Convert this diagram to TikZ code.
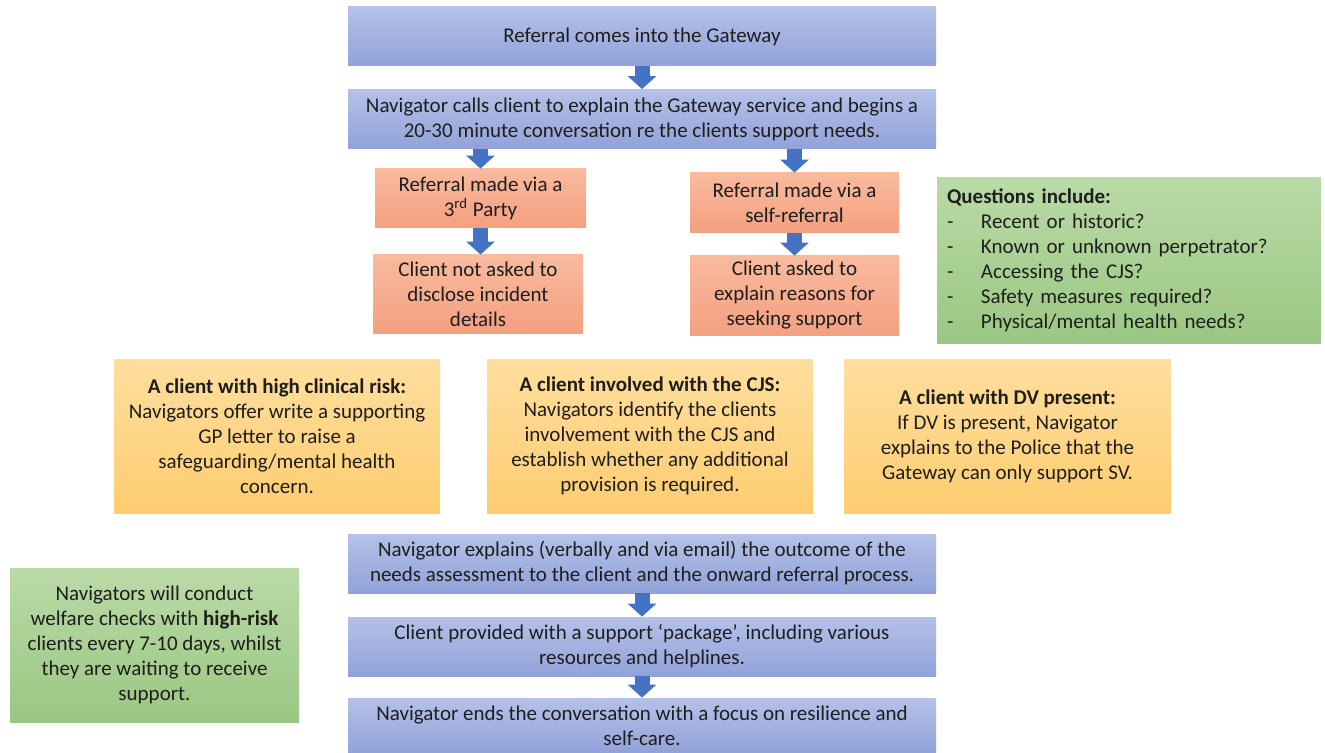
\documentclass[tikz,border=0pt]{standalone}
\usepackage{fontspec}
\setmainfont{Carlito}
\usetikzlibrary{arrows.meta}
\definecolor{bluetop}{HTML}{B4C1E8}
\definecolor{bluebot}{HTML}{92A2D9}
\definecolor{orangetop}{HTML}{F9BA9E}
\definecolor{orangebot}{HTML}{F3A080}
\definecolor{yellowtop}{HTML}{FFDE9E}
\definecolor{yellowbot}{HTML}{FDCD70}
\definecolor{greentop}{HTML}{BADAA6}
\definecolor{greenbot}{HTML}{9AC783}
\definecolor{arrowblue}{HTML}{4472C4}
\definecolor{textgrey}{HTML}{1E1E1E}
\tikzset{
  box/.style={inner sep=0pt, text=textgrey, align=center, font=\fontsize{10.5}{12.5}\selectfont},
  bluebox/.style={box, top color=bluetop, bottom color=bluebot, minimum width=294pt, minimum height=29.5pt},
  orangebox/.style={box, top color=orangetop, bottom color=orangebot},
  yellowbox/.style={box, top color=yellowtop, bottom color=yellowbot, minimum width=163pt, minimum height=77pt},
  greenbox/.style={box, top color=greentop, bottom color=greenbot},
  fatarrow/.style={draw=arrowblue, line width=7.5pt, -{Triangle[width=14pt,length=6.5pt]}}
}
\newcommand{\qitem}[1]{\makebox[17pt][l]{-}#1}
\begin{document}
\begin{tikzpicture}[x=0.5pt, y=-0.5pt]
\useasboundingbox (0,0) rectangle (1325,753);
\node[bluebox] (gateway) at (642,36.5) {Referral comes into the Gateway};
\node[bluebox] (calls) at (642,119) {Navigator calls client to explain the Gateway service and begins a\\20-30 minute conversation re the clients support needs.};
\node[orangebox, minimum width=105.5pt, minimum height=29.5pt] (thirdparty) at (480.5,198.5) {Referral made via a\\3\textsuperscript{rd} Party};
\node[orangebox, minimum width=105pt, minimum height=39pt] (notasked) at (478,294) {Client not asked to\\disclose incident\\details};
\node[orangebox, minimum width=104.5pt, minimum height=30pt] (selfref) at (794.5,203) {Referral made via a\\self-referral};
\node[orangebox, minimum width=104.5pt, minimum height=39.5pt] (asked) at (794.5,295.5) {Client asked to\\explain reasons for\\seeking support};
\node[greenbox, align=left, minimum width=192pt, minimum height=82.5pt, text width=182pt, inner xsep=5pt] (questions) at (1129,260.5) {\textbf{Questions include:}\\\qitem{Recent or historic?}\\\qitem{Known or unknown perpetrator?}\\\qitem{Accessing the CJS?}\\\qitem{Safety measures required?}\\\qitem{Physical/mental health needs?}};
\node[yellowbox] (clinical) at (277,436) {\textbf{A client with high clinical risk:}\\Navigators offer write a supporting\\GP letter to raise a\\safeguarding/mental health\\concern.};
\node[yellowbox] (cjs) at (650,436) {\textbf{A client involved with the CJS:}\\Navigators identify the clients\\involvement with the CJS and\\establish whether any additional\\provision is required.};
\node[yellowbox] (dv) at (1007.5,436) {\textbf{A client with DV present:}\\If DV is present, Navigator\\explains to the Police that the\\Gateway can only support SV.};
\node[bluebox] (outcome) at (642,563.5) {Navigator explains (verbally and via email) the outcome of the\\needs assessment to the client and the onward referral process.};
\node[bluebox] (package) at (642,646.5) {Client provided with a support `package', including various\\resources and helplines.};
\node[bluebox, minimum height=27.5pt] (ends) at (642,725.5) {Navigator ends the conversation with a focus on resilience and\\self-care.};
\node[greenbox, minimum width=144.5pt, minimum height=77pt] (welfare) at (154.5,645) {Navigators will conduct\\welfare checks with \textbf{high-risk}\\clients every 7-10 days, whilst\\they are waiting to receive\\support.};
\draw[fatarrow] (gateway.south) -- (calls.north);
\draw[fatarrow] (calls.south -| thirdparty.north) -- (thirdparty.north);
\draw[fatarrow] (calls.south -| selfref.north) -- (selfref.north);
\draw[fatarrow] (thirdparty.south) -- (thirdparty.south |- notasked.north);
\draw[fatarrow] (selfref.south) -- (asked.north);
\draw[fatarrow] (outcome.south) -- (package.north);
\draw[fatarrow] (package.south) -- (ends.north);
\end{tikzpicture}
\end{document}
